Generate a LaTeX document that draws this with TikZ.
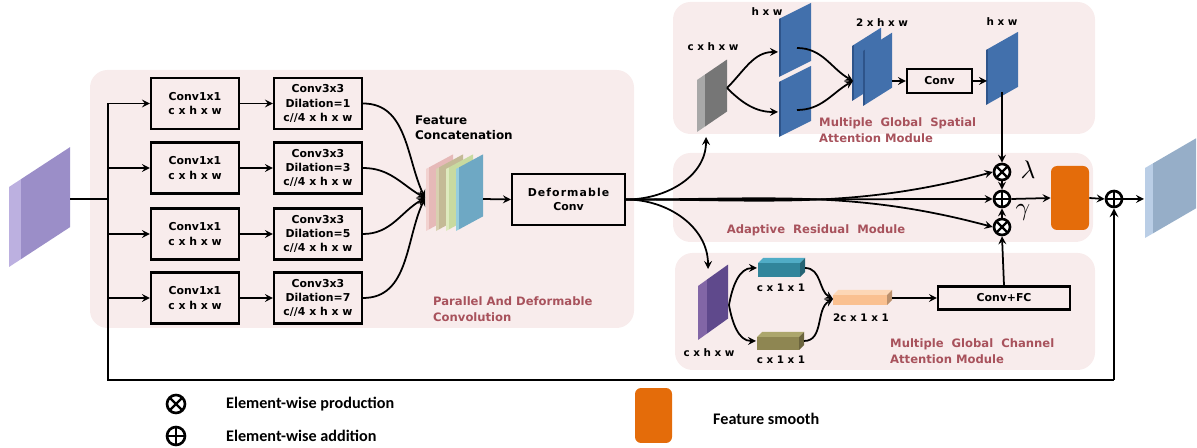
\documentclass[tikz,border=0pt]{standalone}
\usepackage{fontspec}
\setmainfont{DejaVu Sans}
\newfontfamily\legendfont{Carlito}
\usepackage{xcolor}
\usetikzlibrary{calc, positioning, arrows.meta}

\definecolor{panelpink}{RGB}{248,236,236}
\definecolor{titlered}{RGB}{168,82,92}
\definecolor{smoothorange}{RGB}{228,108,10}
\definecolor{planeblue}{RGB}{66,112,172}
\definecolor{planeside}{RGB}{46,84,138}
\definecolor{inface}{RGB}{155,142,200}
\definecolor{inside}{RGB}{188,176,224}
\definecolor{outface}{RGB}{150,174,200}
\definecolor{outside}{RGB}{186,206,230}
\definecolor{catpink}{RGB}{230,185,184}
\definecolor{catpinkS}{RGB}{242,210,208}
\definecolor{cattan}{RGB}{196,186,150}
\definecolor{cattanS}{RGB}{216,208,176}
\definecolor{catlime}{RGB}{200,218,160}
\definecolor{catlimeS}{RGB}{222,234,190}
\definecolor{catblue}{RGB}{110,168,196}
\definecolor{catblueS}{RGB}{150,206,222}
\definecolor{grayface}{RGB}{118,118,118}
\definecolor{grayside}{RGB}{168,168,168}
\definecolor{purpface}{RGB}{95,73,140}
\definecolor{purpside}{RGB}{130,102,166}
\definecolor{tealF}{RGB}{49,133,155}
\definecolor{tealT}{RGB}{80,172,198}
\definecolor{oliveF}{RGB}{142,134,82}
\definecolor{oliveT}{RGB}{172,166,108}
\definecolor{peachF}{RGB}{250,192,144}
\definecolor{peachT}{RGB}{253,215,182}

% slab: x, bottom y, face width, height, rise, thickness, face colour, side colour
\newcommand{\slab}[8]{%
  \pgfmathsetmacro{\slabrise}{#5*#6/#3}
  \fill[#8] (#1,#2) -- (#1,#2-#4) -- (#1+#6,#2-#4-\slabrise) -- (#1+#6,#2-\slabrise) -- cycle;
  \fill[#7] (#1+#6,#2-\slabrise) -- (#1+#6,#2-\slabrise-#4) -- (#1+#6+#3,#2-\slabrise-#4-#5)
        -- (#1+#6+#3,#2-\slabrise-#5) -- cycle;
}
% cuboid: x, top y, width, height, depth, front colour, top colour
\newcommand{\cuboid}[7]{%
  \fill[#6] (#1,#2+#5) rectangle (#1+#3,#2+#5+#4);
  \fill[#7] (#1,#2+#5) -- (#1+#5,#2) -- (#1+#3+#5,#2) -- (#1+#3,#2+#5) -- cycle;
  \fill[#6!75!black] (#1+#3,#2+#5) -- (#1+#3+#5,#2) -- (#1+#3+#5,#2+#4) -- (#1+#3,#2+#5+#4) -- cycle;
}

\begin{document}
\begin{tikzpicture}[x=0.02cm, y=-0.02cm, >=stealth,
    blk/.style={draw, line width=1.2pt, align=center, inner sep=1pt,
                font=\fontsize{6.2}{8.2}\selectfont\bfseries},
    dim/.style={font=\fontsize{5.9}{7}\selectfont\bfseries},
    ttl/.style={anchor=west, align=left, text=titlered,
                font=\fontsize{6.6}{8.8}\selectfont\bfseries},
    lnk/.style={line width=1pt},
    arr/.style={->, line width=1pt},
    panel/.style={fill=panelpink, rounded corners=0.35cm},
    otimes/.style={circle, draw, fill=white, line width=1.5pt, minimum size=0.32cm, inner sep=0pt,
      path picture={\draw[line width=1.3pt]
        (path picture bounding box.north west) -- (path picture bounding box.south east)
        (path picture bounding box.north east) -- (path picture bounding box.south west);}},
    oplus/.style={circle, draw, fill=white, line width=1.5pt, minimum size=0.32cm, inner sep=0pt,
      path picture={\draw[line width=1.3pt]
        (path picture bounding box.north) -- (path picture bounding box.south)
        (path picture bounding box.west) -- (path picture bounding box.east);}},
    legtxt/.style={anchor=west, font=\legendfont\fontsize{9.2}{10}\selectfont\bfseries}]

    \useasboundingbox (0,0) rectangle (1197,448);

    % =================================================================
    % 1. PANELS
    % =================================================================
    \fill[panel] (90,70) rectangle (634,328);
    \fill[panel] (673,2) rectangle (1095,134);
    \fill[panel] (673,153) rectangle (1093,242);
    \fill[panel] (675,253) rectangle (1095,370);

    % =================================================================
    % 2. FEATURE MAPS
    % =================================================================
    % input and output
    \slab{9}{267}{49}{80}{32}{12}{inface}{inside}
    \slab{1145}{238}{43}{70}{25}{8}{outface}{outside}

    % concatenated features
    \slab{426}{231}{24}{62}{13}{3}{catpink}{catpinkS}
    \slab{436}{231}{24}{62}{13}{3}{cattan}{cattanS}
    \slab{446}{231}{24}{62}{13}{3}{catlime}{catlimeS}
    \slab{456}{231}{24}{62}{13}{3}{catblue}{catblueS}

    % spatial attention
    \slab{697}{132}{22}{52}{15}{8}{grayface}{grayside}
    \slab{779}{77}{30}{58}{15}{2}{planeblue}{planeside}
    \slab{779}{137}{30}{55}{15}{2}{planeblue}{planeside}
    \slab{852}{101}{27}{55}{17}{2}{planeblue}{planeside}
    \slab{863}{106}{27}{55}{17}{2}{planeblue}{planeside}
    \slab{986}{105}{30}{55}{17}{2}{planeblue}{planeside}

    % channel attention
    \slab{698}{340}{21}{54}{15}{9}{purpface}{purpside}
    \cuboid{758}{258}{42}{14}{5}{tealF}{tealT}
    \cuboid{757}{332}{42}{13}{5}{oliveF}{oliveT}
    \cuboid{833}{290}{54}{10}{5}{peachF}{peachT}

    % =================================================================
    % 3. BLOCKS
    % =================================================================
    \foreach \i/\yy/\dl in {1/103.5/1, 2/168/3, 3/234/5, 4/298/7} {
        \node[blk, minimum width=1.76cm, minimum height=1.02cm] (cA\i) at (195,\yy)
            {Conv1x1\\c x h x w};
        \node[blk, minimum width=1.76cm, minimum height=1.02cm] (cB\i) at (318,\yy)
            {Conv3x3\\Dilation=\dl\\c//4 x h x w};
    }
    \node[blk, minimum width=2.26cm, minimum height=1.02cm] (dconv) at (568.5,199.5)
        {{\addfontfeature{LetterSpace=10}Deformable}\\Conv};
    \node[blk, minimum width=1.3cm, minimum height=0.48cm] (sconv) at (939.5,81) {Conv};
    \node[blk, minimum width=2.64cm, minimum height=0.46cm] (fc) at (1004,298) {Conv+FC};
    \node[fill=smoothorange, rounded corners=0.12cm, minimum width=0.76cm, minimum height=1.28cm]
        (smooth) at (1070,198) {};

    % operators
    \node[otimes] (mulL) at (1002,172) {};
    \node[oplus]  (add)  at (1002,199) {};
    \node[otimes] (mulG) at (1002,227) {};
    \node[oplus]  (addF) at (1114,199) {};
    \node (lam) at (1028,170) {\scalebox{1.45}{$\lambda$}};
    \node (gam) at (1023,212) {\scalebox{1.45}{$\gamma$}};

    % =================================================================
    % 4. LABELS
    % =================================================================
    \node[dim, anchor=west, align=left, font=\fontsize{6.8}{8.5}\selectfont\bfseries] (fcat) at (409,128)
        {Feature\\Concatenation};
    \node[dim] (lgs) at (713,47) {c x h x w};
    \node[dim] (lh1) at (767,12) {h x w};
    \node[dim] (lh2) at (882,23) {2 x h x w};
    \node[dim] (lh3) at (1002,22) {h x w};
    \node[dim] (lps) at (709,353) {c x h x w};
    \node[dim] (ltl) at (781,288) {c x 1 x 1};
    \node[dim] (lol) at (781,360) {c x 1 x 1};
    \node[dim] (lpc) at (861,318) {2c x 1 x 1};

    \node[ttl] (tpar) at (427,309) {Parallel And Deformable\\Convolution};
    \node[ttl] (tspa) at (813,130) {Multiple\ \ Global\ \ Spatial\\Attention Module};
    \node[ttl, anchor=center] (tres) at (816,230) {Adaptive\ \ Residual\ \ Module};
    \node[ttl] (tcha) at (884,351) {Multiple\ \ Global\ \ Channel\\Attention Module};

    % =================================================================
    % 5. CONNECTORS
    % =================================================================
    \coordinate (inR) at (70,199);
    \coordinate (busM) at (108,199);
    \coordinate (busT) at (108,103.5);
    \coordinate (busB) at (108,380);
    \coordinate (skC) at (1114,380);
    \coordinate (cat) at (425,198);
    \coordinate (catR) at (483,199);
    \coordinate (outL) at (1144,199);

    \draw[lnk] (inR) -- (busM);
    \draw[line width=1.2pt] (busT) -- (busB) -- (skC);
    \draw[arr, line width=1.2pt] (skC) -- (addF.south);
    \foreach \i in {1,...,4} {
        \draw[arr] (busT |- cA\i.west) -- (cA\i.west);
        \draw[arr] (cA\i.east) -- (cB\i.west);
    }
    \foreach \i/\a in {1/115, 2/150, 3/210, 4/245}
        \draw[arr] (cB\i.east) to[out=0, in=\a] (cat);
    \draw[arr] (catR) -- (dconv.west);

    % towards the three modules
    \coordinate (gsB) at (706,137);
    \coordinate (psT) at (708,269);
    \draw[arr] (dconv.east) to[out=0, in=-90] (gsB);
    \draw[arr] (dconv.east) to[out=0, in=90] (psT);
    \draw[arr] (dconv.east) to[out=0, in=195] (mulL.west);
    \draw[arr] (dconv.east) -- (add.west);
    \draw[arr] (dconv.east) to[out=0, in=165] (mulG.west);

    % spatial attention
    \coordinate (gsR) at (727,88);
    \coordinate (upL) at (778,52);
    \coordinate (loL) at (778,112);
    \coordinate (upR) at (797,48);
    \coordinate (loR) at (797,110);
    \coordinate (dbL) at (853,81);
    \coordinate (dbR) at (892,81);
    \coordinate (fpL) at (987,81);
    \coordinate (fpB) at (1002,92);
    \draw[arr] (gsR) to[out=45, in=180] (upL);
    \draw[arr] (gsR) to[out=-45, in=180] (loL);
    \draw[arr] (upR) to[out=0, in=150] (dbL);
    \draw[arr] (loR) to[out=0, in=210] (dbL);
    \draw[arr] (dbR) -- (sconv.west);
    \draw[arr] (sconv.east) -- (fpL);
    \draw[arr] (fpB) -- (mulL.north);

    % channel attention
    \coordinate (psR) at (729,305);
    \coordinate (tlL) at (757,268);
    \coordinate (olL) at (756,341);
    \coordinate (tlR) at (805,268);
    \coordinate (olR) at (804,341);
    \coordinate (pcL) at (833,299);
    \coordinate (pcR) at (892,298);
    \draw[arr] (psR) to[out=80, in=180] (tlL);
    \draw[arr] (psR) to[out=-80, in=180] (olL);
    \draw[arr] (tlR) to[out=0, in=150] (pcL);
    \draw[arr] (olR) to[out=0, in=210] (pcL);
    \draw[arr] (pcR) -- (fc.west);
    \draw[arr] (fc.north) -- (mulG.south);

    % residual fusion
    \draw[arr] (mulL.south) -- (add.north);
    \draw[arr] (mulG.north) -- (add.south);
    \draw[arr] (add.east) -- (smooth.west);
    \draw[arr] (smooth.east) -- (addF.west);
    \draw[arr] (addF.east) -- (outL);

    % =================================================================
    % 6. LEGEND
    % =================================================================
    \node[otimes, minimum size=0.36cm] (legM) at (176,404) {};
    \node[oplus, minimum size=0.36cm] (legA) at (176,436) {};
    \node[legtxt] (legMt) at (220,404) {Element-wise production};
    \node[legtxt] (legAt) at (220,436) {Element-wise addition};
    \node[fill=smoothorange, rounded corners=0.12cm, minimum width=0.74cm, minimum height=1.1cm]
        (legS) at (653.5,415.5) {};
    \node[legtxt] (legSt) at (707,419) {Feature smooth};

\end{tikzpicture}
\end{document}
